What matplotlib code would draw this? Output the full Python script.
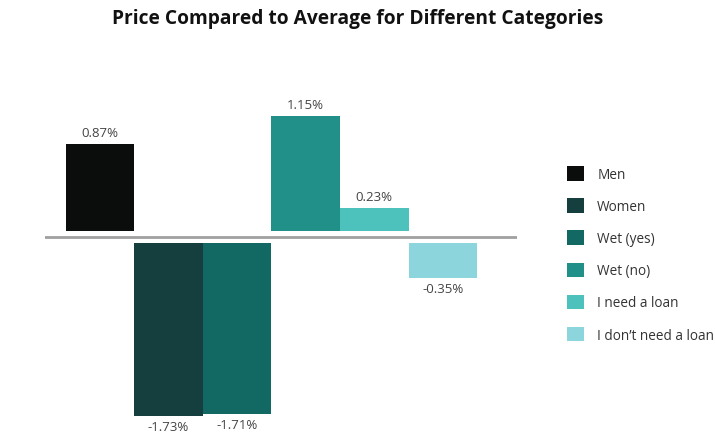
import matplotlib.pyplot as plt
from matplotlib.patches import Patch

# data
categories = ["Men", "Women", "Wet (yes)", "Wet (no)", "I need a loan", "I don\u2019t need a loan"]
values = [0.87, -1.73, -1.71, 1.15, 0.23, -0.35]
labels = ["0.87%", "-1.73%", "-1.71%", "1.15%", "0.23%", "-0.35%"]
colors = ["#0b0d0c", "#153e3e", "#126863", "#219089", "#4dc2bd", "#8dd5dc"]

plt.rcParams['font.family'] = ['Open Sans', 'DejaVu Sans']

fig = plt.figure(figsize=(7.15, 4.35), dpi=100)
ax = fig.add_axes([45 / 715, 15 / 435, 472 / 715, 330 / 435])

gap = 0.06
for i, v in enumerate(values):
    b = gap if v > 0 else -gap
    ax.bar(i, v, width=1.0, bottom=b, color=colors[i], edgecolor="none")
    if v > 0:
        ax.text(i, v + b + 0.05, labels[i], ha="center", va="bottom", fontsize=9.5, color="#444444")
    else:
        ax.text(i, v + b - 0.04, labels[i], ha="center", va="top", fontsize=9.5, color="#444444")

ax.axhline(0, color="#a0a0a0", linewidth=2)
ax.set_xlim(-0.8, 6.08)
ax.set_ylim(-1.82, 1.48)
ax.axis("off")

fig.text(358 / 715, 1 - 19 / 435, "Price Compared to Average for Different Categories",
         ha="center", va="center", fontsize=13.8, fontweight="bold", color="#111111")

handles = [Patch(facecolor=c, edgecolor="none") for c in colors]
fig.legend(handles, categories, loc="upper left", bbox_to_anchor=(555 / 715, 1 - 155 / 435),
           frameon=False, fontsize=9.8, handlelength=1.25, handleheight=1.25,
           labelspacing=1.2, handletextpad=0.95, labelcolor="#333333")

fig.savefig("out.png", dpi=100)
